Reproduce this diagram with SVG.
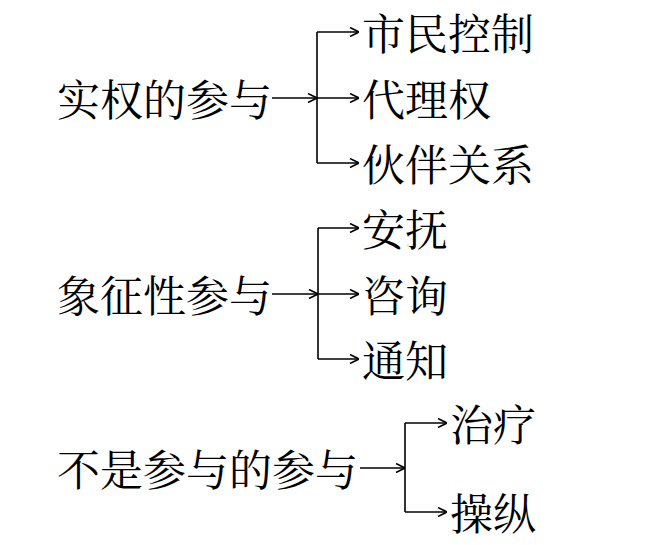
<svg xmlns="http://www.w3.org/2000/svg" width="669" height="545" viewBox="0 0 669 545">
<style>
text{font-family:"Noto Serif CJK SC","Noto Sans CJK SC",serif;font-size:43px;fill:#000;dominant-baseline:central}
.c{fill:none;stroke:#000;stroke-width:1.6}
</style>
<defs>
<marker id="ah" viewBox="0 0 10 10" refX="10" refY="5" markerWidth="10" markerHeight="10" markerUnits="userSpaceOnUse" orient="auto">
<path d="M1,0.5 L10,5 L1,9.5" fill="none" stroke="#000" stroke-width="1.6"/>
</marker>
</defs>
<rect width="669" height="545" fill="#fff"/>
<g id="n1"><text x="57" y="97">实权的参与</text></g>
<g id="n1a"><text x="362" y="31">市民控制</text></g>
<g id="n1b"><text x="362" y="97">代理权</text></g>
<g id="n1c"><text x="362" y="162">伙伴关系</text></g>
<g id="n2"><text x="57" y="293">象征性参与</text></g>
<g id="n2a"><text x="362" y="227">安抚</text></g>
<g id="n2b"><text x="362" y="293">咨询</text></g>
<g id="n2c"><text x="362" y="358">通知</text></g>
<g id="n3"><text x="57" y="467">不是参与的参与</text></g>
<g id="n3a"><text x="450" y="422">治疗</text></g>
<g id="n3b"><text x="450" y="511">操纵</text></g>
<g id="connectors" class="c">
<path d="M272,98 H317" marker-end="url(#ah)"/>
<path d="M317,32 V163"/>
<path d="M317,32 H359" marker-end="url(#ah)"/>
<path d="M317,98 H359" marker-end="url(#ah)"/>
<path d="M317,163 H359" marker-end="url(#ah)"/>
<path d="M272,294 H318" marker-end="url(#ah)"/>
<path d="M318,228 V359"/>
<path d="M318,228 H359" marker-end="url(#ah)"/>
<path d="M318,294 H359" marker-end="url(#ah)"/>
<path d="M318,359 H359" marker-end="url(#ah)"/>
<path d="M360,468 H405" marker-end="url(#ah)"/>
<path d="M405,423 V512"/>
<path d="M405,423 H447" marker-end="url(#ah)"/>
<path d="M405,512 H447" marker-end="url(#ah)"/>
</g>
</svg>
